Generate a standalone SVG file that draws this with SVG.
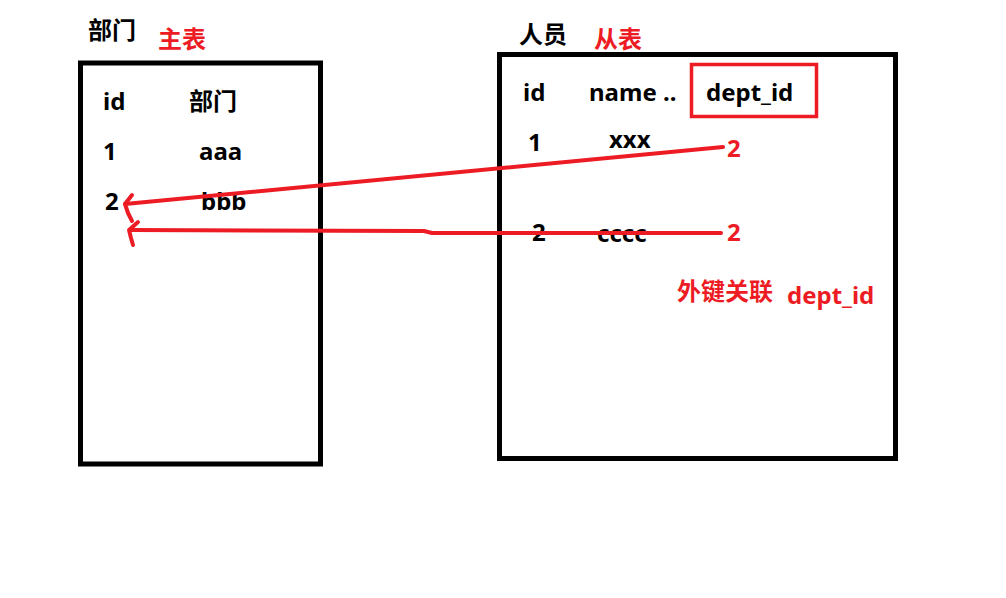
<svg xmlns="http://www.w3.org/2000/svg" width="1006" height="598" viewBox="0 0 1006 598">
<style>
text{font-family:"Noto Sans","Noto Sans CJK SC",sans-serif;font-weight:bold;font-size:24px}
.k{fill:#000}
.r{fill:#ED1C24}
.box{fill:none;stroke:#000;stroke-width:5}
.key{fill:none;stroke:#ED1C24;stroke-width:3.5}
.ln{fill:none;stroke:#ED1C24;stroke-width:4;stroke-linecap:round;stroke-linejoin:round}
</style>
<rect width="1006" height="598" fill="#fff"/>
<g id="dept">
<rect class="box" x="80.5" y="63" width="240" height="401"/>
<text class="k" x="88" y="39">部门</text>
<text class="r" x="158" y="48">主表</text>
<text class="k" x="103" y="110">id</text>
<text class="k" x="189" y="110">部门</text>
<text class="k" x="103" y="160">1</text>
<text class="k" x="199" y="160">aaa</text>
<text class="k" x="105" y="210">2</text>
<text class="k" x="201" y="210">bbb</text>
</g>
<g id="person">
<rect class="box" x="499.5" y="54.5" width="396" height="404"/>
<rect class="key" x="691.5" y="64.5" width="125" height="52"/>
<text class="k" x="519" y="43">人员</text>
<text class="r" x="594" y="48">从表</text>
<text class="k" x="523" y="101">id</text>
<text class="k" x="589" y="101">name ..</text>
<text class="k" x="706" y="101">dept_id</text>
<text class="k" x="528" y="151">1</text>
<text class="k" x="609" y="148">xxx</text>
<text class="r" x="727" y="157">2</text>
<text class="k" x="532" y="241">2</text>
<text class="k" x="597" y="242">cccc</text>
<text class="r" x="727" y="241">2</text>
<text class="r" x="677" y="300">外键关联</text>
<text class="r" x="787" y="304">dept_id</text>
</g>
<g id="connectors">
<path class="ln" d="M723,147 L125,204"/>
<path class="ln" d="M132,195 L125,204 L128,213 L132,221"/>
<path class="ln" d="M721,233 L432,233 L424,231 L130,230"/>
<path class="ln" d="M138,222 L129,230 L131,238 L133,245"/>
</g>
</svg>
